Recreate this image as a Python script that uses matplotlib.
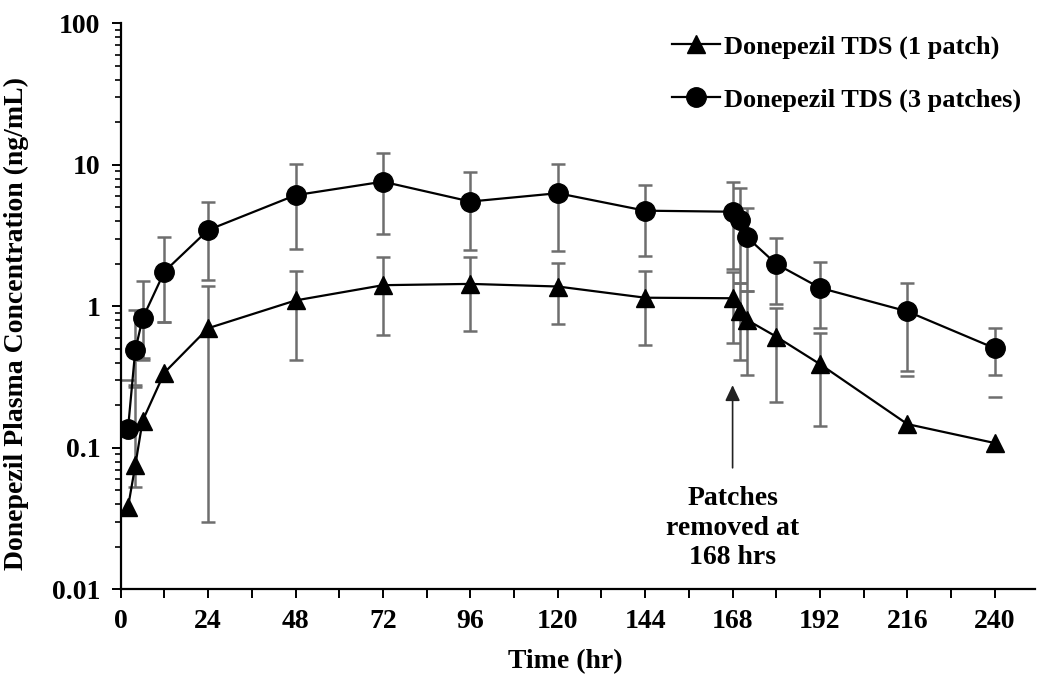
import numpy as np
import matplotlib.pyplot as plt
from matplotlib.ticker import FixedLocator, NullFormatter

# tiempos de muestreo (hr)
tiempo = [2, 4, 6, 12, 24, 48, 72, 96, 120, 144, 168, 170, 172, 180, 192, 216, 240]

# Donepezil TDS (1 patch): media, limite superior e inferior de la barra
uno_media = [0.038, 0.075, 0.155, 0.34, 0.70, 1.10, 1.41, 1.44, 1.38, 1.15, 1.14, 0.93, 0.80, 0.61, 0.39, 0.147, 0.108]
uno_sup = [0.125, 0.27, 0.42, 0.78, 1.40, 1.77, 2.24, 2.24, 2.01, 1.79, 1.74, 1.46, 1.28, 0.97, 0.65, 0.32, 0.229]
uno_inf = [np.nan, 0.053, np.nan, np.nan, 0.030, 0.42, 0.63, 0.67, 0.75, 0.53, 0.55, 0.42, 0.327, 0.212, 0.143, np.nan, np.nan]

# Donepezil TDS (3 patches)
tres_media = [0.136, 0.49, 0.82, 1.76, 3.46, 6.1, 7.6, 5.5, 6.3, 4.74, 4.66, 4.07, 3.07, 1.99, 1.35, 0.92, 0.505]
tres_sup = [0.30, 0.94, 1.52, 3.1, 5.49, 10.1, 12.06, 8.85, 10.1, 7.2, 7.52, 6.82, 4.92, 3.02, 2.05, 1.47, 0.70]
tres_inf = [np.nan, 0.28, 0.43, 0.77, 1.53, 2.53, 3.23, 2.5, 2.46, 2.26, 1.83, 1.46, 1.28, 1.04, 0.70, 0.35, 0.327]

x_ticks = list(range(0, 241, 24))
y_ticks = [0.01, 0.1, 1, 10, 100]
y_labels = ['0.01', '0.1', '1', '10', '100']

plt.rcParams['font.family'] = ['Liberation Serif', 'DejaVu Serif']
plt.rcParams['font.weight'] = 'bold'

fig = plt.figure(figsize=(10.38, 6.74), dpi=100)
ax = fig.add_axes([0.1163, 0.1257, 0.8807, 0.8397])

gris = '#6e6e6e'
def barras(media, sup, inf):
    media = np.array(media)
    err = [media - np.array(inf), np.array(sup) - media]
    ax.errorbar(tiempo, media, yerr=err, fmt='none', ecolor=gris, elinewidth=1.8,
                capsize=5, capthick=1.8, zorder=2)

barras(uno_media, uno_sup, uno_inf)
barras(tres_media, tres_sup, tres_inf)

ax.plot(tiempo, uno_media, color='black', lw=1.6, marker='^', markersize=12.5,
        label='Donepezil TDS (1 patch)', zorder=3)
ax.plot(tiempo, tres_media, color='black', lw=1.6, marker='o', markersize=14,
        label='Donepezil TDS (3 patches)', zorder=3)

# flecha de retiro de parches
ax.annotate('', xy=(168, 0.29), xytext=(168, 0.069),
            arrowprops=dict(arrowstyle='-|>,head_width=0.45,head_length=0.95',
                            color='#222222', lw=1.2))
ax.text(168, 0.027, 'Patches\nremoved at\n168 hrs', ha='center', va='center',
        fontsize=20, fontweight='bold', linespacing=1.25)

ax.set_yscale('log')
ax.set_ylim(0.01, 100)
ax.set_xlim(0, 251)
ax.set_yticks(y_ticks)
ax.set_yticklabels(y_labels)
ax.yaxis.set_minor_locator(FixedLocator([m * 10.0 ** e for e in range(-2, 2) for m in range(2, 10)]))
ax.yaxis.set_minor_formatter(NullFormatter())
ax.set_xticks(x_ticks)
ax.xaxis.set_minor_locator(FixedLocator(list(range(12, 240, 24))))

for s in ['top', 'right']:
    ax.spines[s].set_visible(False)
for s in ['left', 'bottom']:
    ax.spines[s].set_linewidth(1.6)

ax.tick_params(axis='both', which='major', length=6.5, width=1.4, labelsize=20, pad=8)
ax.tick_params(axis='x', which='minor', length=6.5, width=1.4)
ax.tick_params(axis='y', which='minor', length=4.5, width=1.2)

ax.set_xlabel('Time (hr)', fontsize=20, fontweight='bold')
ax.set_ylabel('Donepezil Plasma Concentration (ng/mL)', fontsize=20, fontweight='bold')
ax.xaxis.set_label_coords(0.486, -0.105)
ax.yaxis.set_label_coords(-0.1, 0.47)

ax.legend(loc='upper left', bbox_to_anchor=(0.635, 0.968), bbox_transform=fig.transFigure,
          frameon=False, handlelength=1.8, handletextpad=0.15,
          labelspacing=1.1, borderpad=0, prop={'weight': 'bold', 'size': 19})

fig.savefig('out.png', dpi=100)
